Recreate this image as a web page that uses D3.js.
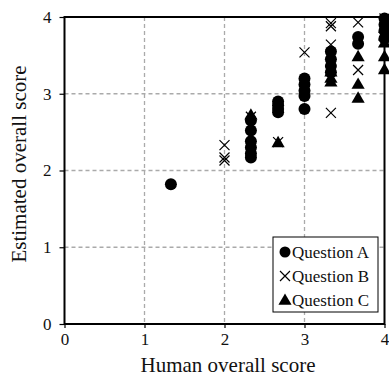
<!DOCTYPE html>
<html>
<head>
<meta charset="utf-8">
<script src="https://cdn.jsdelivr.net/npm/d3@7"></script>
<style>
  body { margin: 0; background: #fff; }
  text { font-family: "Liberation Serif", "Times New Roman", serif; fill: #111; }
</style>
</head>
<body>
<div id="canvas"></div>
<script>
const w = 389;
const h = 378;
const margin = { top: 17, bottom: 54, left: 64.5, right: 4.5 };

const ticks = [0, 1, 2, 3, 4];
const seriesNames = ["Question A", "Question B", "Question C"];

// human score (x) / estimated score (y)
const questionA = [
  [1.33, 1.82],
  [2.33, 2.65], [2.33, 2.52], [2.33, 2.38], [2.33, 2.3], [2.33, 2.22], [2.33, 2.17],
  [2.67, 2.9], [2.67, 2.85], [2.67, 2.8], [2.67, 2.76],
  [3, 3.2], [3, 3.12], [3, 3.04], [3, 2.97], [3, 2.8],
  [3.33, 3.55], [3.33, 3.45], [3.33, 3.36], [3.33, 3.28],
  [3.67, 3.74], [3.67, 3.65],
  [4, 3.98], [4, 3.9], [4, 3.82], [4, 3.72]
];
const questionB = [
  [2, 2.33], [2, 2.17], [2, 2.13],
  [2.33, 2.7],
  [2.67, 2.37],
  [3, 3.54],
  [3.33, 3.92], [3.33, 3.88], [3.33, 3.64], [3.33, 2.75],
  [3.67, 3.93], [3.67, 3.31],
  [4, 3.98]
];
const questionC = [
  [2.33, 2.72],
  [2.67, 2.36],
  [3.33, 3.28], [3.33, 3.2], [3.33, 3.15],
  [3.67, 3.48], [3.67, 3.12], [3.67, 2.94],
  [4, 3.85], [4, 3.75], [4, 3.66], [4, 3.48], [4, 3.31]
];

const width = w - margin.left - margin.right;
const height = h - margin.top - margin.bottom;

const svg = d3.select("#canvas")
  .append("svg")
  .attr("width", w)
  .attr("height", h);

const chart = svg.append("g")
  .attr("transform", "translate(" + margin.left + "," + margin.top + ")");

const x = d3.scaleLinear().domain([0, 4]).range([0, width]);
const y = d3.scaleLinear().domain([0, 4]).range([height, 0]);

// dashed grid
chart.append("g")
  .selectAll("line.vgrid")
  .data([1, 2, 3])
  .enter().append("line")
  .attr("x1", d => x(d)).attr("x2", d => x(d))
  .attr("y1", 0).attr("y2", height)
  .style("stroke", "#aaa").style("stroke-width", 1.3)
  .style("stroke-dasharray", "4,3");

chart.append("g")
  .selectAll("line.hgrid")
  .data([1, 2, 3])
  .enter().append("line")
  .attr("x1", 0).attr("x2", width)
  .attr("y1", d => y(d)).attr("y2", d => y(d))
  .style("stroke", "#aaa").style("stroke-width", 1.3)
  .style("stroke-dasharray", "4,3");

// axes
const xAxis = d3.axisBottom(x).tickValues(ticks).tickFormat(d3.format("d")).tickSize(4).tickPadding(5);
const yAxis = d3.axisLeft(y).tickValues(ticks).tickFormat(d3.format("d")).tickSize(5).tickPadding(8);

const gx = chart.append("g")
  .attr("transform", "translate(0," + height + ")")
  .call(xAxis);
const gy = chart.append("g").call(yAxis);

[gx, gy].forEach(g => {
  g.select(".domain").remove();
  g.selectAll("line").style("stroke", "#000").style("stroke-width", 1.2);
  g.selectAll("text").style("font-size", "17px").style("font-family", "Liberation Serif");
});

// frame
chart.append("rect")
  .attr("x", 0).attr("y", 0)
  .attr("width", width).attr("height", height)
  .style("fill", "none")
  .style("stroke", "#000")
  .style("stroke-width", 2);

// markers
const triangle = d3.symbol().type(d3.symbolTriangle).size(75);

chart.append("g")
  .selectAll("circle")
  .data(questionA)
  .enter().append("circle")
  .attr("cx", d => x(d[0]))
  .attr("cy", d => y(d[1]))
  .attr("r", 6)
  .style("fill", "#000");

chart.append("g")
  .selectAll("path")
  .data(questionC)
  .enter().append("path")
  .attr("d", triangle)
  .attr("transform", d => "translate(" + x(d[0]) + "," + (y(d[1]) + 0.5) + ")")
  .style("fill", "#000");

const cr = 5;
chart.append("g")
  .selectAll("path")
  .data(questionB)
  .enter().append("path")
  .attr("d", "M" + -cr + "," + -cr + "L" + cr + "," + cr + "M" + cr + "," + -cr + "L" + -cr + "," + cr)
  .attr("transform", d => "translate(" + x(d[0]) + "," + y(d[1]) + ")")
  .style("stroke", "#000")
  .style("stroke-width", 1.2)
  .style("fill", "none");

// legend
const legend = svg.append("g").attr("transform", "translate(273,237)");
legend.append("rect")
  .attr("width", 105).attr("height", 75)
  .style("fill", "#fff").style("stroke", "#000").style("stroke-width", 1);

const rowY = [15, 39, 63];
legend.append("circle").attr("cx", 12).attr("cy", rowY[0]).attr("r", 5.5).style("fill", "#000");
legend.append("path")
  .attr("d", "M-5,-5L5,5M5,-5L-5,5")
  .attr("transform", "translate(12," + rowY[1] + ")")
  .style("stroke", "#000").style("stroke-width", 1.2);
legend.append("path")
  .attr("d", triangle)
  .attr("transform", "translate(12," + (rowY[2] + 1) + ")")
  .style("fill", "#000");

legend.selectAll("text.lab")
  .data(seriesNames)
  .enter().append("text")
  .attr("x", 19)
  .attr("y", (d, i) => rowY[i])
  .attr("dy", "0.35em")
  .style("font-size", "17px")
  .text(d => d);

// axis titles
svg.append("text")
  .attr("x", 228)
  .attr("y", 372)
  .attr("text-anchor", "middle")
  .style("font-size", "21px")
  .text("Human overall score");

svg.append("text")
  .attr("transform", "translate(26,164) rotate(-90)")
  .attr("text-anchor", "middle")
  .style("font-size", "21px")
  .text("Estimated overall score");
</script>
</body>
</html>
